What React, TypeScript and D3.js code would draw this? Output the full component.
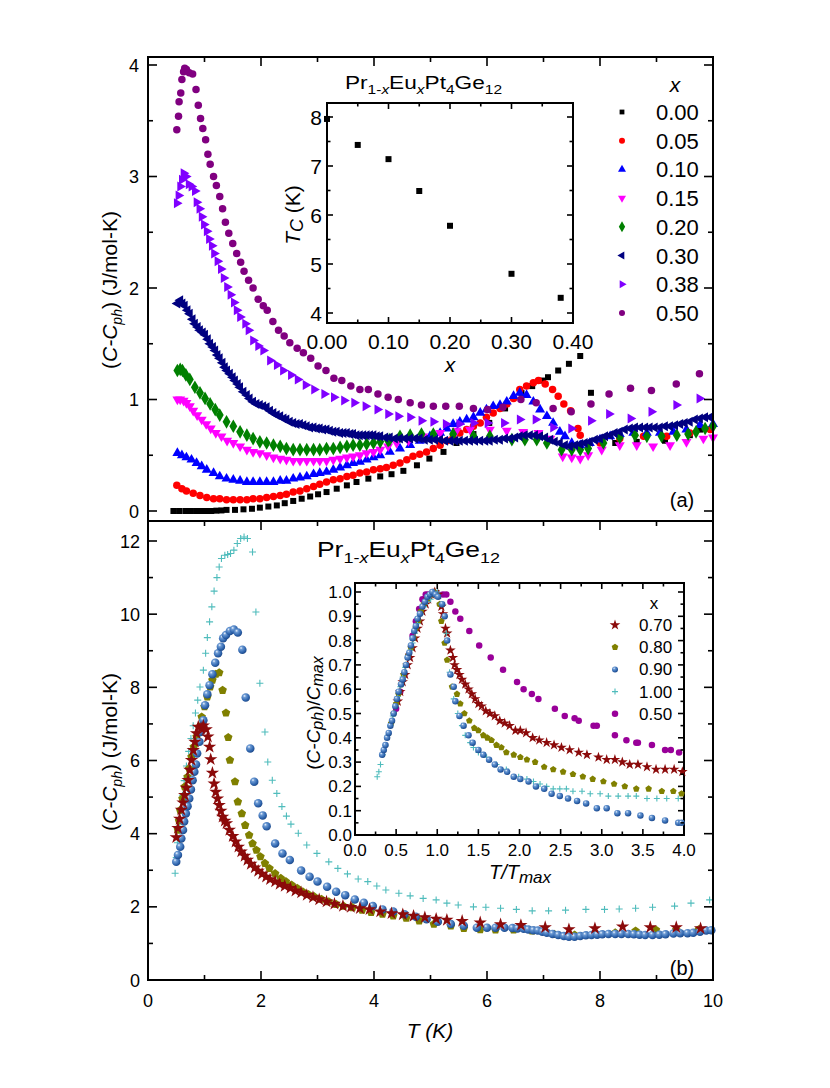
import React from "react";
import * as d3 from "d3";

type P = [number, number];

// ---------- Top panel (a): (C-Cph) vs T ----------
const a000: P[] = [[0.45,0],[0.55,0],[0.66,0],[0.75,0],[0.85,0],[0.94,0],[1.03,0],[1.12,0],[1.21,0.003],[1.3,0.005],[1.39,0.01],[1.54,0.01],[1.69,0.015],[1.84,0.02],[1.98,0.03],[2.13,0.04],[2.28,0.05],[2.42,0.07],[2.57,0.09],[2.72,0.11],[2.87,0.13],[3.01,0.15],[3.16,0.17],[3.34,0.2],[3.52,0.23],[3.69,0.26],[3.9,0.29],[4.11,0.31],[4.31,0.33],[4.52,0.36],[4.76,0.41],[4.98,0.47],[5.23,0.53],[5.46,0.61],[5.76,0.69],[6.04,0.79],[6.32,0.92],[6.61,1.06],[6.8,1.12],[6.99,1.17],[7.08,1.2],[7.26,1.26],[7.45,1.32],[7.65,1.39],[7.84,1.06],[8.27,0.61],[8.65,0.62],[9.15,0.63],[9.59,0.68],[9.77,0.73]];
const a005: P[] = [[0.51,0.23],[0.6,0.2],[0.68,0.18],[0.8,0.16],[0.92,0.14],[1.04,0.12],[1.16,0.11],[1.27,0.11],[1.39,0.1],[1.51,0.1],[1.63,0.1],[1.75,0.1],[1.86,0.11],[1.98,0.11],[2.1,0.12],[2.22,0.13],[2.34,0.14],[2.45,0.15],[2.57,0.17],[2.69,0.18],[2.81,0.2],[2.93,0.22],[3.04,0.24],[3.16,0.26],[3.28,0.28],[3.4,0.29],[3.52,0.31],[3.63,0.32],[3.75,0.34],[3.87,0.35],[3.99,0.37],[4.11,0.38],[4.22,0.39],[4.34,0.41],[4.46,0.43],[4.58,0.46],[4.69,0.49],[4.81,0.51],[4.93,0.53],[5.05,0.56],[5.17,0.59],[5.29,0.63],[5.4,0.66],[5.52,0.7],[5.64,0.73],[5.76,0.76],[5.88,0.79],[5.99,0.84],[6.11,0.88],[6.23,0.92],[6.35,0.96],[6.47,1.01],[6.58,1.09],[6.7,1.12],[6.82,1.15],[6.91,1.17],[7.03,1.14],[7.16,1.09],[7.26,1.03],[7.36,0.96],[7.48,0.9],[7.61,0.74],[7.65,0.68],[8.0,0.61],[8.35,0.65],[8.77,0.67],[9.18,0.67],[9.59,0.7],[9.95,0.73]];
const a010: P[] = [[0.52,0.52],[0.6,0.5],[0.68,0.48],[0.77,0.46],[0.86,0.43],[0.95,0.4],[1.04,0.37],[1.16,0.34],[1.27,0.31],[1.39,0.29],[1.51,0.28],[1.63,0.27],[1.75,0.26],[1.86,0.26],[1.98,0.26],[2.1,0.26],[2.22,0.26],[2.34,0.27],[2.45,0.27],[2.57,0.29],[2.69,0.3],[2.81,0.31],[2.93,0.33],[3.04,0.34],[3.16,0.35],[3.28,0.37],[3.4,0.39],[3.52,0.41],[3.63,0.43],[3.75,0.44],[3.87,0.46],[3.99,0.48],[4.11,0.5],[4.28,0.53],[4.46,0.56],[4.64,0.59],[4.81,0.63],[4.99,0.67],[5.17,0.7],[5.29,0.74],[5.4,0.78],[5.52,0.8],[5.64,0.82],[5.76,0.84],[5.88,0.88],[5.99,0.91],[6.11,0.94],[6.23,0.95],[6.35,0.98],[6.47,1.03],[6.58,1.06],[6.7,1.04],[6.82,0.98],[6.94,0.91],[7.06,0.85],[7.17,0.79],[7.29,0.71],[7.38,0.67],[7.5,0.61],[7.65,0.59],[7.82,0.61],[8.0,0.64],[8.18,0.67],[8.35,0.69],[8.59,0.7],[8.83,0.7],[9.06,0.7],[9.3,0.71],[9.53,0.73],[9.77,0.77],[10.0,0.78]];
const a015: P[] = [[0.52,1.0],[0.57,1.0],[0.63,0.99],[0.68,0.97],[0.74,0.94],[0.8,0.9],[0.87,0.86],[0.95,0.82],[1.03,0.78],[1.11,0.74],[1.2,0.7],[1.3,0.67],[1.4,0.63],[1.51,0.61],[1.63,0.58],[1.75,0.55],[1.86,0.53],[1.98,0.52],[2.1,0.5],[2.22,0.48],[2.34,0.47],[2.45,0.46],[2.57,0.45],[2.69,0.45],[2.81,0.45],[2.93,0.45],[3.04,0.45],[3.16,0.45],[3.28,0.46],[3.4,0.47],[3.52,0.48],[3.63,0.49],[3.75,0.5],[3.87,0.52],[3.99,0.53],[4.11,0.55],[4.25,0.58],[4.4,0.61],[4.61,0.63],[4.87,0.67],[5.17,0.7],[5.46,0.72],[5.7,0.73],[6.05,0.73],[6.35,0.72],[6.64,0.71],[6.91,0.7],[7.12,0.65],[7.34,0.49],[7.5,0.48],[7.65,0.47],[7.79,0.5],[8.03,0.55],[8.35,0.59],[8.65,0.59],[8.94,0.58],[9.24,0.59],[9.53,0.62],[9.83,0.65],[10.0,0.66]];
const a020: P[] = [[0.52,1.26],[0.57,1.27],[0.61,1.26],[0.67,1.22],[0.74,1.18],[0.83,1.11],[0.92,1.06],[1.01,1.01],[1.1,0.96],[1.19,0.91],[1.27,0.86],[1.39,0.8],[1.51,0.76],[1.63,0.71],[1.75,0.68],[1.86,0.65],[1.98,0.62],[2.1,0.61],[2.22,0.59],[2.34,0.58],[2.45,0.56],[2.57,0.55],[2.69,0.55],[2.81,0.55],[2.93,0.55],[3.04,0.55],[3.16,0.56],[3.28,0.56],[3.4,0.57],[3.52,0.58],[3.63,0.59],[3.75,0.59],[3.87,0.6],[3.99,0.61],[4.11,0.62],[4.25,0.63],[4.28,0.64],[4.46,0.67],[4.64,0.68],[4.84,0.69],[5.05,0.69],[5.4,0.69],[5.76,0.67],[6.05,0.67],[6.44,0.64],[6.67,0.64],[6.88,0.64],[7.06,0.61],[7.32,0.55],[7.5,0.55],[7.65,0.55],[7.79,0.56],[8.06,0.61],[8.35,0.66],[8.62,0.68],[8.83,0.67],[9.09,0.67],[9.36,0.68],[9.56,0.69],[9.7,0.71],[9.86,0.74],[10.0,0.76]];
const a030: P[] = [[0.52,1.86],[0.57,1.89],[0.61,1.86],[0.65,1.84],[0.7,1.8],[0.74,1.77],[0.79,1.72],[0.83,1.68],[0.88,1.65],[0.92,1.62],[0.97,1.6],[1.01,1.58],[1.06,1.54],[1.1,1.5],[1.15,1.47],[1.19,1.44],[1.23,1.4],[1.27,1.37],[1.32,1.33],[1.36,1.29],[1.4,1.26],[1.45,1.23],[1.5,1.2],[1.54,1.17],[1.59,1.14],[1.63,1.11],[1.69,1.07],[1.75,1.04],[1.8,1.01],[1.86,0.98],[1.92,0.96],[1.98,0.95],[2.04,0.94],[2.1,0.93],[2.16,0.9],[2.22,0.88],[2.28,0.86],[2.34,0.85],[2.4,0.83],[2.45,0.82],[2.51,0.8],[2.57,0.79],[2.63,0.78],[2.69,0.78],[2.75,0.77],[2.81,0.76],[2.87,0.75],[2.93,0.75],[2.99,0.74],[3.04,0.74],[3.1,0.73],[3.16,0.73],[3.22,0.72],[3.28,0.71],[3.34,0.71],[3.4,0.7],[3.46,0.7],[3.52,0.7],[3.58,0.69],[3.63,0.69],[3.69,0.68],[3.75,0.68],[3.81,0.68],[3.87,0.68],[3.93,0.68],[3.99,0.68],[4.05,0.67],[4.11,0.67],[4.2,0.66],[4.28,0.66],[4.37,0.65],[4.46,0.65],[4.55,0.65],[4.64,0.65],[4.73,0.65],[4.81,0.65],[4.9,0.64],[4.99,0.64],[5.08,0.64],[5.17,0.64],[5.26,0.63],[5.35,0.63],[5.44,0.63],[5.52,0.63],[5.61,0.63],[5.7,0.63],[5.79,0.63],[5.88,0.63],[5.97,0.63],[6.05,0.63],[6.14,0.64],[6.23,0.64],[6.32,0.65],[6.41,0.65],[6.5,0.66],[6.58,0.67],[6.67,0.68],[6.76,0.68],[6.85,0.68],[6.94,0.67],[7.03,0.66],[7.12,0.64],[7.2,0.62],[7.29,0.61],[7.38,0.59],[7.47,0.58],[7.56,0.59],[7.65,0.6],[7.73,0.61],[7.82,0.62],[7.91,0.64],[8.0,0.65],[8.09,0.67],[8.18,0.68],[8.26,0.7],[8.35,0.71],[8.44,0.73],[8.53,0.74],[8.62,0.75],[8.71,0.75],[8.8,0.75],[8.88,0.75],[8.97,0.75],[9.06,0.75],[9.15,0.76],[9.24,0.76],[9.33,0.77],[9.42,0.78],[9.5,0.79],[9.59,0.8],[9.68,0.82],[9.77,0.83],[9.86,0.84],[9.95,0.84]];
const a038: P[] = [[0.51,2.76],[0.54,2.83],[0.57,2.91],[0.6,2.97],[0.63,3.03],[0.67,3.0],[0.72,2.93],[0.77,2.91],[0.83,2.87],[0.86,2.77],[0.91,2.71],[0.95,2.64],[0.99,2.57],[1.04,2.51],[1.08,2.44],[1.13,2.38],[1.17,2.31],[1.23,2.24],[1.29,2.17],[1.34,2.09],[1.4,2.01],[1.46,1.94],[1.52,1.87],[1.57,1.8],[1.63,1.74],[1.72,1.68],[1.78,1.62],[1.86,1.53],[1.95,1.48],[2.04,1.44],[2.16,1.35],[2.28,1.31],[2.39,1.26],[2.53,1.22],[2.65,1.18],[2.79,1.13],[2.94,1.09],[3.12,1.05],[3.29,1.02],[3.47,0.99],[3.65,0.97],[3.85,0.94],[4.06,0.91],[4.25,0.87],[4.43,0.85],[4.64,0.84],[4.84,0.81],[5.05,0.8],[5.27,0.78],[5.51,0.78],[5.76,0.79],[6.01,0.79],[6.3,0.79],[6.58,0.82],[6.86,0.82],[7.17,0.75],[7.49,0.74],[7.84,0.81],[8.16,0.87],[8.54,0.83],[8.91,0.89],[9.35,0.95],[9.76,1.01]];
const a050: P[] = [[0.51,3.42],[0.54,3.54],[0.55,3.67],[0.58,3.75],[0.6,3.87],[0.63,3.94],[0.65,3.97],[0.68,3.96],[0.73,3.93],[0.79,3.92],[0.85,3.78],[0.89,3.64],[0.93,3.52],[0.97,3.43],[1.02,3.33],[1.06,3.2],[1.1,3.11],[1.16,3.0],[1.21,2.92],[1.27,2.82],[1.32,2.71],[1.37,2.59],[1.43,2.49],[1.5,2.4],[1.57,2.31],[1.64,2.23],[1.7,2.15],[1.78,2.07],[1.86,2.0],[1.95,1.9],[2.04,1.84],[2.11,1.8],[2.21,1.7],[2.31,1.62],[2.41,1.57],[2.51,1.51],[2.64,1.46],[2.75,1.42],[2.88,1.37],[3.01,1.3],[3.15,1.26],[3.29,1.19],[3.43,1.17],[3.59,1.12],[3.75,1.09],[3.9,1.09],[4.07,1.05],[4.25,1.02],[4.43,1.0],[4.64,0.97],[4.84,0.95],[5.05,0.94],[5.27,0.94],[5.51,0.94],[5.76,0.92],[6.01,0.91],[6.28,0.93],[6.6,1.0],[6.87,0.97],[7.17,0.92],[7.49,0.89],[7.84,0.96],[8.16,1.05],[8.54,1.1],[8.91,1.08],[9.35,1.14],[9.76,1.23]];

// inset (a): Tc vs x
const insetX = [0, 0.05, 0.1, 0.15, 0.2, 0.3, 0.38];
const insetTc = [7.96, 7.43, 7.14, 6.49, 5.78, 4.8, 4.31];
const legendA = ["0.00", "0.05", "0.10", "0.15", "0.20", "0.30", "0.38", "0.50"];

// ---------- Bottom panel (b) ----------
const b070: P[] = [[0.5,3.9],[0.53,4.15],[0.56,4.4],[0.59,4.65],[0.62,4.85],[0.65,5.05],[0.68,5.25],[0.71,5.46],[0.74,5.74],[0.77,6.01],[0.8,6.28],[0.83,6.51],[0.86,6.74],[0.89,6.92],[0.94,6.88],[0.98,6.95],[1.03,6.85],[1.06,6.65],[1.09,6.37],[1.11,6.03],[1.14,5.66],[1.17,5.37],[1.2,5.14],[1.23,4.96],[1.26,4.78],[1.29,4.62],[1.32,4.46],[1.36,4.35],[1.39,4.28],[1.44,4.1],[1.5,3.93],[1.55,3.78],[1.6,3.64],[1.65,3.51],[1.71,3.39],[1.76,3.28],[1.82,3.17],[1.89,3.07],[1.95,2.98],[2.02,2.9],[2.09,2.82],[2.16,2.75],[2.25,2.69],[2.33,2.62],[2.42,2.57],[2.52,2.51],[2.61,2.44],[2.71,2.39],[2.81,2.32],[2.92,2.26],[3.03,2.2],[3.16,2.14],[3.3,2.08],[3.45,2.02],[3.59,1.99],[3.75,1.96],[3.92,1.93],[4.11,1.87],[4.31,1.82],[4.51,1.79],[4.7,1.75],[4.9,1.71],[5.1,1.67],[5.29,1.64],[5.56,1.61],[5.88,1.57],[6.24,1.52],[6.6,1.5],[7.03,1.44],[7.45,1.38],[7.91,1.41],[8.4,1.46],[8.89,1.44],[9.35,1.44],[9.78,1.41]];
const b080: P[] = [[0.53,4.1],[0.55,4.35],[0.57,4.64],[0.61,4.96],[0.65,5.28],[0.7,5.55],[0.73,5.78],[0.77,6.1],[0.81,6.37],[0.86,6.65],[0.91,6.92],[0.95,7.19],[1.0,7.47],[1.05,7.74],[1.1,8.01],[1.14,8.2],[1.2,8.36],[1.26,8.4],[1.32,7.92],[1.38,7.3],[1.42,6.63],[1.45,6.01],[1.54,5.42],[1.59,4.87],[1.66,4.55],[1.72,4.23],[1.79,3.96],[1.85,3.73],[1.92,3.55],[1.99,3.37],[2.07,3.19],[2.15,3.05],[2.25,2.91],[2.35,2.78],[2.44,2.69],[2.54,2.6],[2.64,2.51],[2.74,2.41],[2.84,2.34],[2.94,2.28],[3.07,2.21],[3.2,2.14],[3.33,2.07],[3.46,2.02],[3.62,1.98],[3.79,1.91],[3.95,1.85],[4.15,1.8],[4.34,1.75],[4.57,1.69],[4.8,1.62],[5.06,1.53],[5.36,1.48],[5.59,1.41],[5.88,1.38],[6.15,1.37],[6.47,1.37],[6.8,1.34],[7.19,1.25],[7.55,1.23],[7.91,1.28],[8.27,1.29],[8.63,1.34],[8.99,1.37],[9.35,1.37],[9.75,1.38]];
const b090: P[] = [[0.5,3.23],[0.53,3.42],[0.57,3.64],[0.59,3.87],[0.62,4.1],[0.64,4.33],[0.67,4.55],[0.7,4.75],[0.73,4.96],[0.76,5.21],[0.79,5.46],[0.82,5.69],[0.85,5.89],[0.87,6.19],[0.91,6.51],[0.93,6.78],[0.98,7.1],[1.01,7.51],[1.05,7.81],[1.09,8.06],[1.14,8.36],[1.19,8.67],[1.24,8.93],[1.29,9.11],[1.33,9.34],[1.38,9.43],[1.45,9.54],[1.52,9.58],[1.59,9.5],[1.67,9.03],[1.73,7.72],[1.81,6.33],[1.88,5.42],[1.95,4.83],[2.03,4.5],[2.1,4.2],[2.25,3.73],[2.38,3.46],[2.51,3.28],[2.71,2.99],[2.86,2.82],[3.0,2.69],[3.17,2.55],[3.33,2.41],[3.49,2.32],[3.66,2.2],[3.82,2.11],[3.98,2.02],[4.15,1.93],[4.34,1.87],[4.54,1.8],[4.74,1.73],[4.93,1.66],[5.13,1.59],[5.36,1.53],[5.59,1.48],[5.82,1.43],[6.0,1.43],[6.15,1.43],[6.31,1.43],[6.45,1.42],[6.54,1.41],[6.65,1.4],[6.73,1.38],[6.82,1.36],[6.9,1.35],[6.98,1.32],[7.06,1.29],[7.16,1.26],[7.26,1.23],[7.36,1.2],[7.45,1.18],[7.55,1.18],[7.65,1.2],[7.75,1.22],[7.85,1.23],[7.95,1.24],[8.04,1.25],[8.15,1.26],[8.27,1.26],[8.38,1.26],[8.5,1.26],[8.6,1.25],[8.7,1.24],[8.8,1.23],[8.93,1.23],[9.05,1.24],[9.16,1.25],[9.3,1.27],[9.42,1.28],[9.55,1.28],[9.65,1.29],[9.77,1.32],[9.88,1.35],[9.97,1.36]];
const b100: P[] = [[0.48,2.92],[0.5,3.35],[0.52,3.75],[0.55,4.2],[0.58,4.65],[0.61,5.05],[0.64,5.45],[0.68,5.85],[0.72,6.25],[0.76,6.6],[0.8,6.95],[0.84,7.3],[0.88,7.65],[0.92,8.01],[0.98,8.47],[1.02,8.93],[1.05,9.36],[1.09,9.79],[1.13,10.2],[1.17,10.63],[1.22,11.0],[1.26,11.29],[1.3,11.52],[1.36,11.61],[1.41,11.63],[1.46,11.66],[1.52,11.75],[1.58,11.93],[1.64,12.07],[1.7,12.11],[1.76,12.07],[1.85,11.7],[1.91,10.06],[1.98,8.11],[2.07,6.78],[2.12,5.96],[2.2,5.46],[2.28,5.1],[2.37,4.74],[2.45,4.48],[2.53,4.26],[2.66,4.01],[2.81,3.69],[2.99,3.46],[3.2,3.23],[3.36,3.05],[3.53,2.9],[3.72,2.76],[3.89,2.69],[4.05,2.57],[4.21,2.46],[4.44,2.37],[4.64,2.3],[4.87,2.23],[5.1,2.19],[5.29,2.1],[5.49,2.05],[5.76,2.0],[5.98,1.99],[6.24,1.96],[6.52,1.93],[6.8,1.89],[7.09,1.89],[7.39,1.91],[7.75,1.93],[8.08,1.93],[8.34,1.94],[8.63,1.96],[8.93,1.99],[9.32,2.02],[9.61,2.1],[9.94,2.19]];

// inset (b): normalized
const j070: P[] = [[0.52,0.55],[0.55,0.59],[0.58,0.63],[0.61,0.66],[0.64,0.7],[0.67,0.73],[0.7,0.77],[0.73,0.81],[0.76,0.85],[0.79,0.88],[0.82,0.92],[0.86,0.95],[0.89,0.97],[0.93,0.99],[0.97,1.0],[1.01,0.99],[1.05,0.94],[1.07,0.91],[1.1,0.85],[1.12,0.83],[1.16,0.76],[1.19,0.73],[1.21,0.7],[1.24,0.68],[1.27,0.66],[1.3,0.64],[1.34,0.62],[1.38,0.6],[1.42,0.58],[1.46,0.56],[1.5,0.54],[1.54,0.53],[1.59,0.51],[1.64,0.5],[1.7,0.49],[1.76,0.47],[1.82,0.46],[1.88,0.45],[1.95,0.43],[2.01,0.43],[2.08,0.42],[2.16,0.4],[2.24,0.39],[2.33,0.38],[2.42,0.37],[2.51,0.36],[2.61,0.35],[2.72,0.34],[2.82,0.33],[2.96,0.32],[3.06,0.31],[3.16,0.31],[3.25,0.3],[3.34,0.29],[3.44,0.29],[3.55,0.28],[3.66,0.27],[3.77,0.27],[3.88,0.27],[3.98,0.26]];
const j080: P[] = [[0.44,0.46],[0.47,0.5],[0.5,0.54],[0.53,0.58],[0.56,0.62],[0.59,0.66],[0.62,0.7],[0.65,0.74],[0.68,0.77],[0.71,0.81],[0.74,0.85],[0.77,0.88],[0.8,0.92],[0.84,0.95],[0.88,0.97],[0.92,0.99],[0.96,1.0],[0.99,0.99],[1.03,0.95],[1.05,0.88],[1.09,0.79],[1.12,0.72],[1.18,0.61],[1.24,0.58],[1.28,0.54],[1.33,0.5],[1.39,0.47],[1.45,0.44],[1.5,0.43],[1.56,0.41],[1.61,0.4],[1.66,0.39],[1.72,0.37],[1.78,0.36],[1.84,0.34],[1.93,0.33],[2.01,0.32],[2.09,0.31],[2.19,0.3],[2.3,0.28],[2.41,0.27],[2.53,0.26],[2.65,0.25],[2.77,0.24],[2.89,0.23],[3.02,0.22],[3.15,0.21],[3.28,0.2],[3.42,0.19],[3.57,0.19],[3.73,0.18],[3.87,0.18],[3.97,0.17]];
const j090: P[] = [[0.33,0.33],[0.35,0.35],[0.37,0.37],[0.39,0.4],[0.41,0.42],[0.43,0.45],[0.45,0.47],[0.47,0.5],[0.49,0.53],[0.51,0.56],[0.53,0.59],[0.56,0.62],[0.58,0.64],[0.6,0.67],[0.62,0.7],[0.64,0.73],[0.66,0.75],[0.68,0.78],[0.7,0.81],[0.72,0.84],[0.74,0.86],[0.76,0.89],[0.79,0.91],[0.82,0.94],[0.85,0.96],[0.88,0.98],[0.91,0.99],[0.94,1.0],[0.98,0.99],[1.01,0.98],[1.06,0.95],[1.09,0.9],[1.12,0.8],[1.16,0.66],[1.2,0.61],[1.22,0.55],[1.27,0.49],[1.32,0.45],[1.38,0.41],[1.43,0.38],[1.5,0.35],[1.56,0.33],[1.63,0.31],[1.7,0.29],[1.77,0.27],[1.85,0.26],[1.93,0.24],[2.01,0.23],[2.11,0.22],[2.2,0.2],[2.3,0.19],[2.39,0.17],[2.49,0.16],[2.59,0.15],[2.7,0.14],[2.81,0.13],[2.94,0.11],[3.06,0.11],[3.19,0.09],[3.32,0.09],[3.47,0.08],[3.61,0.07],[3.77,0.06],[3.93,0.05],[3.97,0.05]];
const j100: P[] = [[0.27,0.24],[0.29,0.26],[0.31,0.29],[0.34,0.33],[0.37,0.37],[0.4,0.41],[0.43,0.45],[0.46,0.49],[0.49,0.53],[0.52,0.57],[0.55,0.61],[0.58,0.65],[0.61,0.69],[0.64,0.73],[0.67,0.76],[0.7,0.79],[0.73,0.83],[0.76,0.87],[0.8,0.91],[0.84,0.94],[0.88,0.96],[0.92,0.97],[0.96,0.99],[1.0,1.0],[1.05,0.95],[1.11,0.83],[1.15,0.67],[1.2,0.56],[1.25,0.5],[1.3,0.45],[1.34,0.41],[1.4,0.38],[1.44,0.36],[1.5,0.34],[1.6,0.32],[1.72,0.29],[1.84,0.27],[1.99,0.24],[2.09,0.23],[2.17,0.22],[2.25,0.21],[2.33,0.2],[2.41,0.19],[2.49,0.19],[2.57,0.19],[2.65,0.18],[2.76,0.18],[2.86,0.17],[2.98,0.17],[3.08,0.16],[3.2,0.16],[3.32,0.16],[3.42,0.16],[3.55,0.15],[3.67,0.15],[3.79,0.15],[3.93,0.15]];
const j050: P[] = [[0.5,0.52],[0.55,0.59],[0.6,0.66],[0.65,0.74],[0.7,0.82],[0.74,0.88],[0.78,0.93],[0.82,0.97],[0.86,0.99],[0.89,0.99],[0.95,1.0],[1.01,0.99],[1.07,0.99],[1.11,0.99],[1.16,0.96],[1.22,0.92],[1.28,0.89],[1.39,0.84],[1.51,0.78],[1.65,0.73],[1.8,0.68],[1.97,0.63],[2.05,0.6],[2.15,0.58],[2.23,0.56],[2.43,0.52],[2.55,0.49],[2.67,0.48],[2.72,0.47],[2.9,0.45],[2.94,0.45],[3.16,0.41],[3.3,0.39],[3.42,0.38],[3.44,0.38],[3.61,0.37],[3.77,0.35],[3.84,0.35],[3.94,0.34]];
const legendB = ["0.70", "0.80", "0.90", "1.00", "0.50"];

// ---------- scales ----------
const xT = d3.scaleLinear().domain([0, 10]).range([148, 713]);
const yA = d3.scaleLinear().domain([0, 4]).range([511, 65]);
const yB = d3.scaleLinear().domain([0, 12]).range([980, 541]);
const xI = d3.scaleLinear().domain([0, 0.4]).range([327, 573]);
const yI = d3.scaleLinear().domain([4, 8]).range([313, 117]);
const xJ = d3.scaleLinear().domain([0, 4]).range([355, 684]);
const yJ = d3.scaleLinear().domain([0, 1]).range([835, 592]);

const FONT = "'Liberation Sans', Arial, Helvetica, sans-serif";

type Kind = "square" | "circle" | "triUp" | "triDown" | "diamond" | "triLeft" | "triRight" | "star" | "pentagon" | "sphere" | "plus";

function pentagonPath(r: number) {
  const pts = d3.range(5).map((i) => {
    const a = (-90 + 72 * i) * Math.PI / 180;
    return [r * Math.cos(a), r * Math.sin(a)];
  });
  return "M" + pts.map((p) => p[0].toFixed(2) + "," + p[1].toFixed(2)).join("L") + "Z";
}

function Marker({ kind, x, y, color, s }: { kind: Kind; x: number; y: number; color: string; s: number }) {
  const t = `translate(${x.toFixed(2)},${y.toFixed(2)})`;
  switch (kind) {
    case "square":
      return <path d={d3.symbol().type(d3.symbolSquare).size(s * s)()!} transform={t} fill={color} />;
    case "circle":
      return <circle cx={x} cy={y} r={s / 2} fill={color} />;
    case "triUp":
      return <path d={d3.symbol().type(d3.symbolTriangle).size(s * s * 0.6)()!} transform={t} fill={color} />;
    case "triDown":
      return <path d={d3.symbol().type(d3.symbolTriangle).size(s * s * 0.6)()!} transform={t + " rotate(180)"} fill={color} />;
    case "triLeft":
      return <path d={d3.symbol().type(d3.symbolTriangle).size(s * s * 0.6)()!} transform={t + " rotate(-90)"} fill={color} />;
    case "triRight":
      return <path d={d3.symbol().type(d3.symbolTriangle).size(s * s * 0.6)()!} transform={t + " rotate(90)"} fill={color} />;
    case "diamond":
      return <path d={d3.symbol().type(d3.symbolDiamond).size(s * s * 0.75)()!} transform={t} fill={color} />;
    case "star":
      return <path d={d3.symbol().type(d3.symbolStar).size(s * s * 0.55)()!} transform={t} fill={color} />;
    case "pentagon":
      return <path d={pentagonPath(s / 2)} transform={t} fill={color} />;
    case "sphere":
      return <circle cx={x} cy={y} r={s / 2} fill="url(#sph)" />;
    case "plus":
      return <path d={`M${-s / 2},0H${s / 2}M0,${-s / 2}V${s / 2}`} transform={t} stroke={color} strokeWidth={1.1} fill="none" />;
  }
  return null;
}

function Series({ data, xs, ys, kind, color, s }: { data: P[]; xs: any; ys: any; kind: Kind; color: string; s: number }) {
  return (
    <g>
      {data.map((d, i) => (
        <Marker key={i} kind={kind} x={xs(d[0])} y={ys(d[1])} color={color} s={s} />
      ))}
    </g>
  );
}

function HTicks({ xs, vals, y, len, dir }: { xs: any; vals: number[]; y: number; len: number; dir: number }) {
  return (
    <g stroke="#000" strokeWidth={1.6}>
      {vals.map((v, i) => (
        <line key={i} x1={xs(v)} x2={xs(v)} y1={y} y2={y + dir * len} />
      ))}
    </g>
  );
}
function VTicks({ ys, vals, x, len, dir }: { ys: any; vals: number[]; x: number; len: number; dir: number }) {
  return (
    <g stroke="#000" strokeWidth={1.6}>
      {vals.map((v, i) => (
        <line key={i} y1={ys(v)} y2={ys(v)} x1={x} x2={x + dir * len} />
      ))}
    </g>
  );
}

function Formula({ x, y, size, sub, width }: { x: number; y: number; size: number; sub: number; width: number }) {
  const d = size * 0.25;
  return (
    <text x={x} y={y} fontSize={size} textLength={width} lengthAdjust="spacingAndGlyphs">
      <tspan>Pr</tspan>
      <tspan fontSize={sub} dy={d}>1-</tspan>
      <tspan fontSize={sub} fontStyle="italic">x</tspan>
      <tspan dy={-d}>Eu</tspan>
      <tspan fontSize={sub} fontStyle="italic" dy={d}>x</tspan>
      <tspan dy={-d}>Pt</tspan>
      <tspan fontSize={sub} dy={d}>4</tspan>
      <tspan dy={-d}>Ge</tspan>
      <tspan fontSize={sub} dy={d}>12</tspan>
    </text>
  );
}

const topSeries: { data: P[]; kind: Kind; color: string; s: number }[] = [
  { data: a000, kind: "square", color: "#000000", s: 6 },
  { data: a005, kind: "circle", color: "#ff0000", s: 7.5 },
  { data: a010, kind: "triUp", color: "#0000ff", s: 8.5 },
  { data: a015, kind: "triDown", color: "#ff00ff", s: 8.5 },
  { data: a020, kind: "diamond", color: "#008000", s: 8.5 },
  { data: a030, kind: "triLeft", color: "#000080", s: 8.5 },
  { data: a038, kind: "triRight", color: "#8000ff", s: 8.5 },
  { data: a050, kind: "circle", color: "#800080", s: 7.5 },
];

const C_RED = "#8b0a0a";
const C_OLIVE = "#808000";
const C_CYAN = "#4fbcbc";
const C_PURP = "#990099";

export default function App() {
  const xMajor = d3.range(0, 10.001, 2);
  const xMinor = d3.range(1, 10, 2);
  const yAMaj = d3.range(0, 4.001, 1);
  const yAMin = d3.range(0.5, 4.1, 1);
  const yBMaj = d3.range(0, 12.001, 2);
  const yBMin = d3.range(1, 12.5, 2);
  const xIMaj = d3.range(0, 0.4001, 0.1);
  const xIMin = d3.range(0.05, 0.4, 0.1);
  const yIMaj = d3.range(4, 8.001, 1);
  const yIMin = d3.range(4.5, 8.2, 1);
  const xJMaj = d3.range(0, 4.001, 0.5);
  const xJMin = d3.range(0.25, 4, 0.5);
  const yJMaj = d3.range(0, 1.0001, 0.1);
  const yJMin = d3.range(0.05, 1.03, 0.1);

  const legendYs = legendA.map((_, i) => 112 + i * 28.7);

  return (
    <svg width={830} height={1088} style={{ position: "absolute", left: 0, top: 0, background: "#fff" }} fontFamily={FONT}>
      <defs>
        <radialGradient id="sph" cx="0.38" cy="0.35" r="0.7" fx="0.35" fy="0.3">
          <stop offset="0" stopColor="#f2f7ff" />
          <stop offset="0.25" stopColor="#6d9bd4" />
          <stop offset="0.7" stopColor="#2f65ae" />
          <stop offset="1" stopColor="#1b4584" />
        </radialGradient>
      </defs>
      <rect x={0} y={0} width={830} height={1088} fill="#fff" />

      {/* ===== Top panel data ===== */}
      {topSeries.map((s, i) => (
        <Series key={i} data={s.data} xs={xT} ys={yA} kind={s.kind} color={s.color} s={s.s} />
      ))}

      {/* ===== Bottom panel data ===== */}
      <Series data={b100} xs={xT} ys={yB} kind="plus" color={C_CYAN} s={7} />
      <Series data={b080} xs={xT} ys={yB} kind="pentagon" color={C_OLIVE} s={9} />
      <Series data={b090} xs={xT} ys={yB} kind="sphere" color="#3a70b8" s={8.5} />
      <Series data={b070} xs={xT} ys={yB} kind="star" color={C_RED} s={10} />

      {/* ===== frames ===== */}
      <rect x={148} y={57} width={565} height={464} fill="none" stroke="#000" strokeWidth={2} />
      <rect x={148} y={521} width={565} height={459} fill="none" stroke="#000" strokeWidth={2} />

      <HTicks xs={xT} vals={xMajor} y={57} len={9} dir={1} />
      <HTicks xs={xT} vals={xMinor} y={57} len={5} dir={1} />
      <VTicks ys={yA} vals={yAMaj} x={148} len={9} dir={1} />
      <VTicks ys={yA} vals={yAMin} x={148} len={5} dir={1} />
      <VTicks ys={yA} vals={yAMaj} x={713} len={9} dir={-1} />
      <VTicks ys={yA} vals={yAMin} x={713} len={5} dir={-1} />
      <HTicks xs={xT} vals={xMajor} y={521} len={9} dir={1} />
      <HTicks xs={xT} vals={xMinor} y={521} len={5} dir={1} />
      <HTicks xs={xT} vals={xMajor} y={980} len={9} dir={-1} />
      <HTicks xs={xT} vals={xMinor} y={980} len={5} dir={-1} />
      <VTicks ys={yB} vals={yBMaj} x={148} len={9} dir={1} />
      <VTicks ys={yB} vals={yBMin} x={148} len={5} dir={1} />
      <VTicks ys={yB} vals={yBMaj} x={713} len={9} dir={-1} />
      <VTicks ys={yB} vals={yBMin} x={713} len={5} dir={-1} />

      <g fontSize={18} textAnchor="end">
        {yAMaj.map((v, i) => (
          <text key={i} x={139} y={yA(v) + 6.5}>{d3.format("d")(v)}</text>
        ))}
        {yBMaj.map((v, i) => (
          <text key={"b" + i} x={140} y={yB(v) + 6.5}>{d3.format("d")(v)}</text>
        ))}
      </g>
      <g fontSize={18} textAnchor="middle">
        {xMajor.map((v, i) => (
          <text key={i} x={xT(v)} y={1007}>{d3.format("d")(v)}</text>
        ))}
      </g>

      <text x={430} y={1038} fontSize={21} textAnchor="middle" fontStyle="italic">T (K)</text>
      <text transform="translate(117,290) rotate(-90)" fontSize={21} textAnchor="middle">
        <tspan>(</tspan>
        <tspan fontStyle="italic">C-C</tspan>
        <tspan fontStyle="italic" fontSize={14} dy={5}>ph</tspan>
        <tspan dy={-5}>) (J/mol-K)</tspan>
      </text>
      <text transform="translate(117,752) rotate(-90)" fontSize={21} textAnchor="middle">
        <tspan>(</tspan>
        <tspan fontStyle="italic">C-C</tspan>
        <tspan fontStyle="italic" fontSize={14} dy={5}>ph</tspan>
        <tspan dy={-5}>) (J/mol-K)</tspan>
      </text>

      <text x={682} y={507} fontSize={20} textAnchor="middle">(a)</text>
      <text x={682} y={975} fontSize={20} textAnchor="middle">(b)</text>

      {/* ===== Top legend ===== */}
      <text x={675} y={92} fontSize={21} fontStyle="italic" textAnchor="middle">x</text>
      {topSeries.map((s, i) => (
        <g key={i}>
          <Marker kind={s.kind} x={622} y={legendYs[i]} color={s.color} s={s.s * 0.8} />
          <text x={656} y={legendYs[i] + 8} fontSize={22}>{legendA[i]}</text>
        </g>
      ))}

      {/* ===== Top inset ===== */}
      <rect x={327} y={103} width={246} height={220} fill="#fff" stroke="#000" strokeWidth={2} />
      {insetX.map((x, i) => (
        <Marker key={i} kind="square" x={xI(x)} y={yI(insetTc[i])} color="#000" s={6} />
      ))}
      <HTicks xs={xI} vals={xIMaj} y={323} len={6} dir={-1} />
      <HTicks xs={xI} vals={xIMin} y={323} len={3.5} dir={-1} />
      <HTicks xs={xI} vals={xIMaj} y={103} len={6} dir={1} />
      <HTicks xs={xI} vals={xIMin} y={103} len={3.5} dir={1} />
      <VTicks ys={yI} vals={yIMaj} x={327} len={6} dir={1} />
      <VTicks ys={yI} vals={yIMin} x={327} len={3.5} dir={1} />
      <VTicks ys={yI} vals={yIMaj} x={573} len={6} dir={-1} />
      <VTicks ys={yI} vals={yIMin} x={573} len={3.5} dir={-1} />
      <g fontSize={21} textAnchor="end">
        {yIMaj.map((v, i) => (
          <text key={i} x={322} y={yI(v) + 7.5}>{d3.format("d")(v)}</text>
        ))}
      </g>
      <g fontSize={21} textAnchor="middle">
        {xIMaj.map((v, i) => (
          <text key={i} x={xI(v)} y={349}>{d3.format(".2f")(v)}</text>
        ))}
      </g>
      <text x={450} y={372} fontSize={21} fontStyle="italic" textAnchor="middle">x</text>
      <text transform="translate(300,215) rotate(-90)" fontSize={21} textAnchor="middle">
        <tspan fontStyle="italic">T</tspan>
        <tspan fontStyle="italic" fontSize={18} dy={3}>C</tspan>
        <tspan dy={-3}> (K)</tspan>
      </text>
      <Formula x={345} y={89} size={19} sub={13} width={157} />

      {/* ===== Bottom title ===== */}
      <Formula x={317} y={557} size={22} sub={15} width={183} />

      {/* ===== Bottom inset ===== */}
      <rect x={355} y={583} width={329} height={252} fill="#fff" stroke="#000" strokeWidth={2} />
      <Series data={j050} xs={xJ} ys={yJ} kind="circle" color={C_PURP} s={6.5} />
      <Series data={j070} xs={xJ} ys={yJ} kind="star" color={C_RED} s={8} />
      <Series data={j080} xs={xJ} ys={yJ} kind="pentagon" color={C_OLIVE} s={7} />
      <Series data={j100} xs={xJ} ys={yJ} kind="plus" color={C_CYAN} s={6} />
      <Series data={j090} xs={xJ} ys={yJ} kind="sphere" color="#3a70b8" s={6.5} />
      <HTicks xs={xJ} vals={xJMaj} y={835} len={6} dir={-1} />
      <HTicks xs={xJ} vals={xJMin} y={835} len={3.5} dir={-1} />
      <HTicks xs={xJ} vals={xJMaj} y={583} len={6} dir={1} />
      <HTicks xs={xJ} vals={xJMin} y={583} len={3.5} dir={1} />
      <VTicks ys={yJ} vals={yJMaj} x={355} len={6} dir={1} />
      <VTicks ys={yJ} vals={yJMin} x={355} len={3.5} dir={1} />
      <VTicks ys={yJ} vals={yJMaj} x={684} len={6} dir={-1} />
      <VTicks ys={yJ} vals={yJMin} x={684} len={3.5} dir={-1} />
      <g fontSize={17} textAnchor="end">
        {yJMaj.map((v, i) => (
          <text key={i} x={352} y={yJ(v) + 6}>{d3.format(".1f")(v)}</text>
        ))}
      </g>
      <g fontSize={17} textAnchor="middle">
        {xJMaj.map((v, i) => (
          <text key={i} x={xJ(v)} y={856}>{d3.format(".1f")(v)}</text>
        ))}
      </g>
      <text x={520} y={879} fontSize={20} textAnchor="middle" fontStyle="italic">
        <tspan>T/T</tspan>
        <tspan fontSize={17} dy={4}>max</tspan>
      </text>
      <text transform="translate(320,713) rotate(-90)" fontSize={19} textAnchor="middle">
        <tspan>(</tspan>
        <tspan fontStyle="italic">C-C</tspan>
        <tspan fontStyle="italic" fontSize={16} dy={3}>ph</tspan>
        <tspan dy={-3}>)/</tspan>
        <tspan fontStyle="italic">C</tspan>
        <tspan fontStyle="italic" fontSize={16} dy={3}>max</tspan>
      </text>

      <text x={654} y={609} fontSize={17} textAnchor="middle">x</text>
      {[
        { kind: "star" as Kind, color: C_RED, s: 8 },
        { kind: "pentagon" as Kind, color: C_OLIVE, s: 7 },
        { kind: "sphere" as Kind, color: "#3a70b8", s: 6 },
        { kind: "plus" as Kind, color: C_CYAN, s: 6 },
        { kind: "circle" as Kind, color: C_PURP, s: 6.5 },
      ].map((m, i) => {
        const y = 625 + i * 22.2;
        return (
          <g key={i}>
            <Marker kind={m.kind} x={615} y={y} color={m.color} s={m.s} />
            <text x={639} y={y + 6} fontSize={17}>{legendB[i]}</text>
          </g>
        );
      })}
    </svg>
  );
}
